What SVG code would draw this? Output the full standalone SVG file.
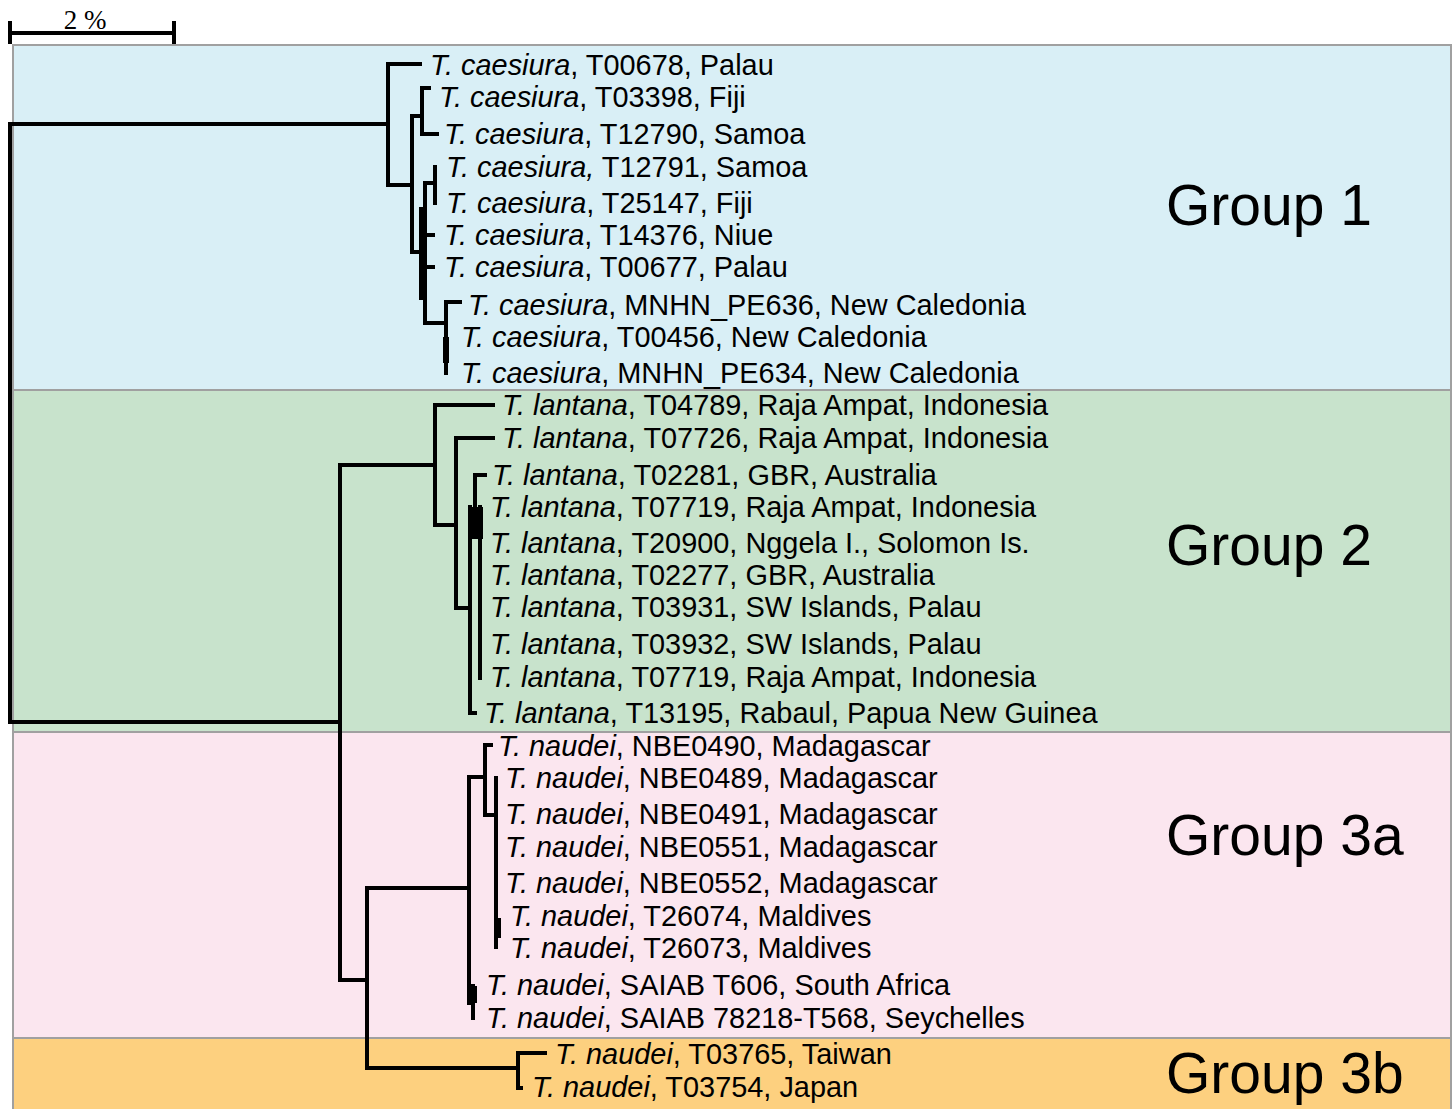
<svg xmlns="http://www.w3.org/2000/svg" width="1455" height="1109" viewBox="0 0 1455 1109">
<style>
.bg{stroke:#a0a0a0;stroke-width:2}
.t{font-family:"Liberation Sans",Arial,sans-serif;font-size:28.9px;fill:#000}
.i{font-style:italic}
.g{font-family:"Liberation Sans",Arial,sans-serif;font-size:57px;fill:#000}
.e{fill:none;stroke:#000;stroke-width:4;stroke-linecap:square;stroke-linejoin:miter}
.b{fill:#000}
</style>
<rect width="1455" height="1109" fill="#fff"/>
<g id="backgrounds">
<rect class="bg" x="13" y="45" width="1438" height="345" fill="#d9eff6"/>
<rect class="bg" x="13" y="390" width="1438" height="342" fill="#c8e3cc"/>
<rect class="bg" x="13" y="732" width="1438" height="306" fill="#fbe6ef"/>
<rect class="bg" x="13" y="1038" width="1438" height="75" fill="#fdd07f"/>
</g>
<g id="scale">
<path class="e" d="M10 33H174M10 23V42M174 23V42"/>
<text x="85" y="29" text-anchor="middle" style="font-family:'Liberation Serif',serif;font-size:27px">2 %</text>
</g>
<g id="connectors">
<path class="e" d="M10 124V722M10 124H388M10 722H340"/>
<path class="e" d="M388 64V185M388 64H420M388 185H412M412 116V252M412 116H422M422 88V134M422 88H429M422 134H437M412 252H425M425 183V323M425 183H434M435 167V203M425 235H433M425 267H433M425 323H446M446 302V373M446 302H460"/>
<rect class="b" x="419" y="207" width="8" height="93"/>
<rect class="b" x="443" y="337" width="6" height="26"/>
<path class="e" d="M340 465V980M340 465H435M435 405V525M435 405H493M435 525H456M456 438V608M456 438H493M456 608H470M470 507V713M470 713H475M475 475V537M475 475H485M480 507V678"/>
<rect class="b" x="468" y="507" width="15" height="32"/>
<path class="e" d="M340 980H367M367 888V1068M367 888H469M469 777V1003M469 777H485M485 745V815M485 745H491M485 815H496M496 778V947M473 986V1018"/>
<rect class="b" x="467" y="986" width="10" height="17"/>
<rect class="b" x="494" y="918" width="7" height="20"/>
<path class="e" d="M367 1068H518M518 1053V1088M518 1053H545M518 1088H521"/>
</g>
<g id="group1">
<text class="t" x="430" y="75"><tspan class="i">T. caesiura</tspan>, T00678, Palau</text>
<text class="t" x="439" y="107"><tspan class="i">T. caesiura</tspan>, T03398, Fiji</text>
<text class="t" x="444" y="144"><tspan class="i">T. caesiura</tspan>, T12790, Samoa</text>
<text class="t" x="446" y="177"><tspan class="i">T. caesiura,</tspan> T12791, Samoa</text>
<text class="t" x="446" y="213"><tspan class="i">T. caesiura</tspan>, T25147, Fiji</text>
<text class="t" x="444" y="245"><tspan class="i">T. caesiura</tspan>, T14376, Niue</text>
<text class="t" x="444" y="277"><tspan class="i">T. caesiura</tspan>, T00677, Palau</text>
<text class="t" x="468" y="315"><tspan class="i">T. caesiura</tspan>, MNHN_PE636, New Caledonia</text>
<text class="t" x="461" y="347"><tspan class="i">T. caesiura</tspan>, T00456, New Caledonia</text>
<text class="t" x="461" y="383"><tspan class="i">T. caesiura</tspan>, MNHN_PE634, New Caledonia</text>
<text class="g" x="1166" y="225">Group 1</text>
</g>
<g id="group2">
<text class="t" x="502" y="415"><tspan class="i">T. lantana</tspan>, T04789, Raja Ampat, Indonesia</text>
<text class="t" x="502" y="448"><tspan class="i">T. lantana</tspan>, T07726, Raja Ampat, Indonesia</text>
<text class="t" x="492" y="485"><tspan class="i">T. lantana</tspan>, T02281, GBR, Australia</text>
<text class="t" x="490" y="517"><tspan class="i">T. lantana</tspan>, T07719, Raja Ampat, Indonesia</text>
<text class="t" x="490" y="553"><tspan class="i">T. lantana</tspan>, T20900, Nggela I., Solomon Is.</text>
<text class="t" x="490" y="585"><tspan class="i">T. lantana</tspan>, T02277, GBR, Australia</text>
<text class="t" x="490" y="617"><tspan class="i">T. lantana</tspan>, T03931, SW Islands, Palau</text>
<text class="t" x="490" y="654"><tspan class="i">T. lantana</tspan>, T03932, SW Islands, Palau</text>
<text class="t" x="490" y="687"><tspan class="i">T. lantana</tspan>, T07719, Raja Ampat, Indonesia</text>
<text class="t" x="484" y="723"><tspan class="i">T. lantana</tspan>, T13195, Rabaul, Papua New Guinea</text>
<text class="g" x="1166" y="565">Group 2</text>
</g>
<g id="group3a">
<text class="t" x="498" y="756"><tspan class="i">T. naudei</tspan>, NBE0490, Madagascar</text>
<text class="t" x="505" y="788"><tspan class="i">T. naudei</tspan>, NBE0489, Madagascar</text>
<text class="t" x="505" y="824"><tspan class="i">T. naudei</tspan>, NBE0491, Madagascar</text>
<text class="t" x="505" y="857"><tspan class="i">T. naudei</tspan>, NBE0551, Madagascar</text>
<text class="t" x="505" y="893"><tspan class="i">T. naudei</tspan>, NBE0552, Madagascar</text>
<text class="t" x="510" y="926"><tspan class="i">T. naudei</tspan>, T26074, Maldives</text>
<text class="t" x="510" y="958"><tspan class="i">T. naudei</tspan>, T26073, Maldives</text>
<text class="t" x="486" y="995"><tspan class="i">T. naudei</tspan>, SAIAB T606, South Africa</text>
<text class="t" x="486" y="1028"><tspan class="i">T. naudei</tspan>, SAIAB 78218-T568, Seychelles</text>
<text class="g" x="1166" y="855">Group 3a</text>
</g>
<g id="group3b">
<text class="t" x="555" y="1064"><tspan class="i">T. naudei</tspan>, T03765, Taiwan</text>
<text class="t" x="532" y="1097"><tspan class="i">T. naudei</tspan>, T03754, Japan</text>
<text class="g" x="1166" y="1093">Group 3b</text>
</g>
</svg>
